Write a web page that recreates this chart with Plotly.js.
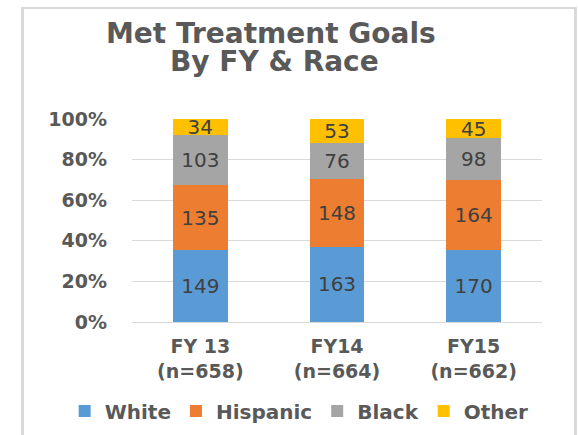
<!DOCTYPE html>
<html>
<head>
<meta charset="utf-8">
<script src="https://cdn.plot.ly/plotly-3.0.1.min.js"></script>
<style>
  html, body { margin: 0; padding: 0; background: #fff; }
  #chart { position: absolute; left: 0; top: 0; width: 578px; height: 435px; }
  #frame {
    position: absolute; left: 21px; top: 7px; width: 550px; height: 440px;
    border-left: 3px solid #d9d9d9; border-top: 2px solid #d9d9d9; border-right: 3px solid #d9d9d9;
    pointer-events: none;
  }
</style>
</head>
<body>
<div id="chart"></div>
<div id="frame"></div>
<script>
// Met Treatment Goals by FY & race (counts, drawn as 100% stacked columns)
const years = ['FY 13<br>(n=658)', 'FY14<br>(n=664)', 'FY15<br>(n=662)'];
const white = [149, 163, 170];
const hispanic = [135, 148, 164];
const black = [103, 76, 98];
const other = [34, 53, 45];

const seriesNames = ['White', 'Hispanic', 'Black', 'Other'];
const seriesColors = ['#5B9BD5', '#ED7D31', '#A5A5A5', '#FFC000'];
const seriesValues = [white, hispanic, black, other];

const grey = '#595959';
const boldFont = 'DejaVu Sans, sans-serif';

// plot area in page pixels
const plotL = 131.5, plotR = 542.5, plotT = 119, plotB = 322;
const plotW = plotR - plotL, plotH = plotB - plotT;

const traces = seriesValues.map((vals, i) => ({
    type: 'bar',
    name: seriesNames[i],
    x: years,
    y: vals,
    text: vals,
    texttemplate: '%{text}',
    textposition: 'inside',
    insidetextanchor: 'middle',
    textangle: 0,
    constraintext: 'none',
    insidetextfont: { family: 'DejaVu Sans, sans-serif', size: 20, color: '#404040' },
    marker: { color: seriesColors[i], line: { width: 0 } },
    hoverinfo: 'skip'
}));

const layout = {
    width: 578,
    height: 435,
    margin: { l: plotL, r: 578 - plotR, t: plotT, b: 435 - plotB, autoexpand: false },
    paper_bgcolor: '#fff',
    plot_bgcolor: '#fff',
    barmode: 'stack',
    barnorm: 'percent',
    bargap: 0.6,
    showlegend: true,
    legend: {
        orientation: 'h',
        xref: 'paper', yref: 'paper',
        x: (64 - plotL) / plotW, xanchor: 'left',
        y: -(411 - plotB) / plotH, yanchor: 'middle',
        font: { family: boldFont, size: 20, color: grey, weight: 'bold' },
        traceorder: 'normal'
    },
    xaxis: {
        type: 'category',
        showgrid: false,
        showline: true,
        linecolor: '#d9d9d9',
        linewidth: 1,
        ticks: '',
        ticklabelstandoff: 7,
        tickfont: { family: boldFont, size: 19, color: grey, weight: 'bold' },
        fixedrange: true
    },
    yaxis: {
        range: [0, 100],
        dtick: 20,
        ticksuffix: '%',
        showgrid: true,
        gridcolor: '#d9d9d9',
        gridwidth: 1,
        zeroline: false,
        ticks: '',
        ticklabelstandoff: 24,
        tickfont: { family: boldFont, size: 19, color: grey, weight: 'bold' },
        fixedrange: true
    },
    annotations: [
        {
            text: '<b>Met Treatment Goals</b>',
            xref: 'paper', yref: 'paper',
            x: (271 - plotL) / plotW, y: 1 + (plotT - 34) / plotH,
            xanchor: 'center', yanchor: 'middle', showarrow: false,
            font: { family: boldFont, size: 28, color: grey }
        },
        {
            text: '<b>By FY & Race</b>',
            xref: 'paper', yref: 'paper',
            x: (274 - plotL) / plotW, y: 1 + (plotT - 61) / plotH,
            xanchor: 'center', yanchor: 'middle', showarrow: false,
            font: { family: boldFont, size: 28, color: grey }
        }
    ]
};

Plotly.newPlot('chart', traces, layout, { displayModeBar: false, staticPlot: true });
</script>
</body>
</html>
